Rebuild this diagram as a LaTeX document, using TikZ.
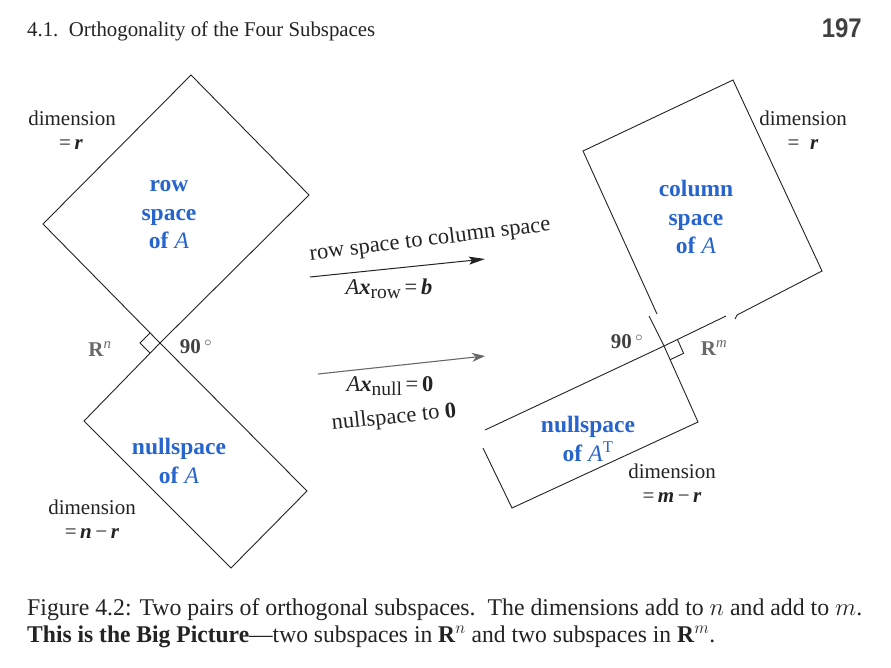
\documentclass[tikz,border=0pt]{standalone}
\usepackage{fontspec}
\setmainfont{Liberation Serif}
\newfontfamily\headsans{Liberation Sans}
\usepackage{graphicx}
\usetikzlibrary{arrows.meta,calc}
\definecolor{lblue}{RGB}{40,100,205}
\definecolor{lgray}{RGB}{105,105,105}
\definecolor{dgray}{RGB}{65,65,65}
\definecolor{ink}{RGB}{35,35,35}
\begin{document}
\begin{tikzpicture}[x=1pt,y=-1pt,
  edge/.style={draw=ink, line width=0.9pt, line join=miter},
  txt/.style={font=\fontsize{21}{25}\selectfont, text=ink, inner sep=0pt},
  atxt/.style={font=\fontsize{22.5}{26}\selectfont, text=ink, inner sep=0pt},
  blab/.style={font=\fontsize{23.5}{28.5}\selectfont\bfseries, text=lblue, align=center, inner sep=0pt},
  glab/.style={font=\fontsize{21}{25}\selectfont\bfseries, inner sep=0pt},
  capt/.style={anchor=west, inner sep=0pt, text=ink}]
\useasboundingbox[fill=white] (0,0) rectangle (891,667);

% header
\node[capt] (head) at (27,31) {\resizebox{348pt}{\height}{\fontsize{21}{24}\selectfont 4.1.\ \ Orthogonality of the Four Subspaces}};
\node[anchor=east, inner sep=0pt, text=dgray] (pg) at (862,28) {\resizebox{40pt}{\height}{\headsans\bfseries\fontsize{27}{30}\selectfont 197}};

% ---------- left: row space and nullspace ----------
\coordinate (RT) at (191,75);
\coordinate (RR) at (309,195);
\coordinate (RL) at (43,224);
\coordinate (C1) at (160,343);
\coordinate (NL) at (84,421);
\coordinate (NR) at (307,491);
\coordinate (NB) at (231,568);
\draw[edge] (C1) -- (RL) -- (RT) -- (RR) -- cycle;
\draw[edge] (C1) -- (NL) -- (NB) -- (NR) -- cycle;
\draw[edge] ($(C1)+(-10,-10)$) -- ($(C1)+(-20,0)$) -- ($(C1)+(-10,10)$);

\node[txt] (dl1) at (72,118) {dimension};
\node[txt] (dl2) at (71,145) {=\,\textbf{\textit{r}}};
\node[blab] (rowsp) at (169,215) {row\\space\\of \textmd{\textit{A}}};
\node[blab] (nullA) at (179,461) {nullspace\\of \textmd{\textit{A}}};
\node[txt] (dl3) at (92,507) {dimension};
\node[txt] (dl4) at (92,534) {=\,\textbf{\textit{n}}\,\textminus\,\textbf{\textit{r}}};
\node[glab, text=lgray] (Rn) at (100,349) {R\textsuperscript{\textmd{\textit{n}}}};
\node[glab, text=dgray] (ang1) at (196,347) {90\,$^{\circ}$};

% ---------- arrows ----------
\coordinate (a1s) at (310,277);
\coordinate (a1e) at (485,259);
\coordinate (a2s) at (318,374);
\coordinate (a2e) at (485,356);
\draw[ink, line width=1pt, -{Stealth[length=16pt,width=8pt,inset=3pt]}] (a1s) -- (a1e);
\draw[lgray, line width=1.1pt, -{Stealth[length=13pt,width=9pt,inset=4pt]}] (a2s) -- (a2e);
\node[atxt, rotate=7] (t1) at (430,240) {row space to column space};
\node[atxt] (t2) at (389,289) {\textit{A}\textbf{\textit{x}}\raisebox{-0.35ex}{\fontsize{19.5}{20}\selectfont row}\,=\,\textbf{\textit{b}}};
\node[atxt] (t3) at (390,386) {\textit{A}\textbf{\textit{x}}\raisebox{-0.35ex}{\fontsize{19.5}{20}\selectfont null}\,=\,\textbf{0}};
\node[atxt, rotate=6] (t4) at (394,418) {nullspace to \textbf{0}};

% ---------- right: column space and left nullspace ----------
\coordinate (CT) at (733,80);
\coordinate (CTL) at (583,151);
\coordinate (CR) at (822,271);
\coordinate (C2) at (664,346);
\coordinate (g1) at (657,314);
\coordinate (g2) at (737,315);
\coordinate (h1) at (649,316);
\coordinate (h2) at (726,316);
\coordinate (LT) at (485,430);
\coordinate (LR) at (698,422);
\coordinate (LB) at (512,508);
\coordinate (LL) at (483,448);
\draw[edge] (g1) -- (CTL) -- (CT) -- (CR) -- (g2) -- ++(-2,4);
\draw[edge] (h2) -- (C2) -- (LT);
\draw[edge] (h1) -- (C2) -- (LR) -- (LB) -- (LL);
\draw[edge] (677.5,339.6) -- (683.6,353.3) -- (670.1,359.7);

\node[txt] (dr1) at (803,118) {dimension};
\node[txt] (dr2) at (803,145) {=\ \ \textbf{\textit{r}}};
\node[blab] (colsp) at (696,217) {column\\space\\of \textmd{\textit{A}}};
\node[blab] (nullAT) at (588,439) {nullspace\\of \textmd{\textit{A}}\textsuperscript{\textmd{T}}};
\node[txt] (dr3) at (672,471) {dimension};
\node[txt] (dr4) at (672,498) {=\,\textbf{\textit{m}}\,\textminus\,\textbf{\textit{r}}};
\node[glab, text=dgray] (ang2) at (627,342) {90\,$^{\circ}$};
\node[glab, text=lgray] (Rm) at (714,348) {R\textsuperscript{\textmd{\textit{m}}}};

% ---------- caption ----------
\node[capt] (cap1) at (27,610) {\resizebox{835pt}{\height}{\fontsize{24}{28}\selectfont Figure 4.2: Two pairs of orthogonal subspaces.\ \ The dimensions add to $n$ and add to $m$.}};
\node[capt] (cap2) at (27,637) {\resizebox{688pt}{\height}{\fontsize{24}{28}\selectfont \textbf{This is the Big Picture}---two subspaces in \textbf{R}$^{n}$ and two subspaces in \textbf{R}$^{m}$.}};
\end{tikzpicture}
\end{document}
